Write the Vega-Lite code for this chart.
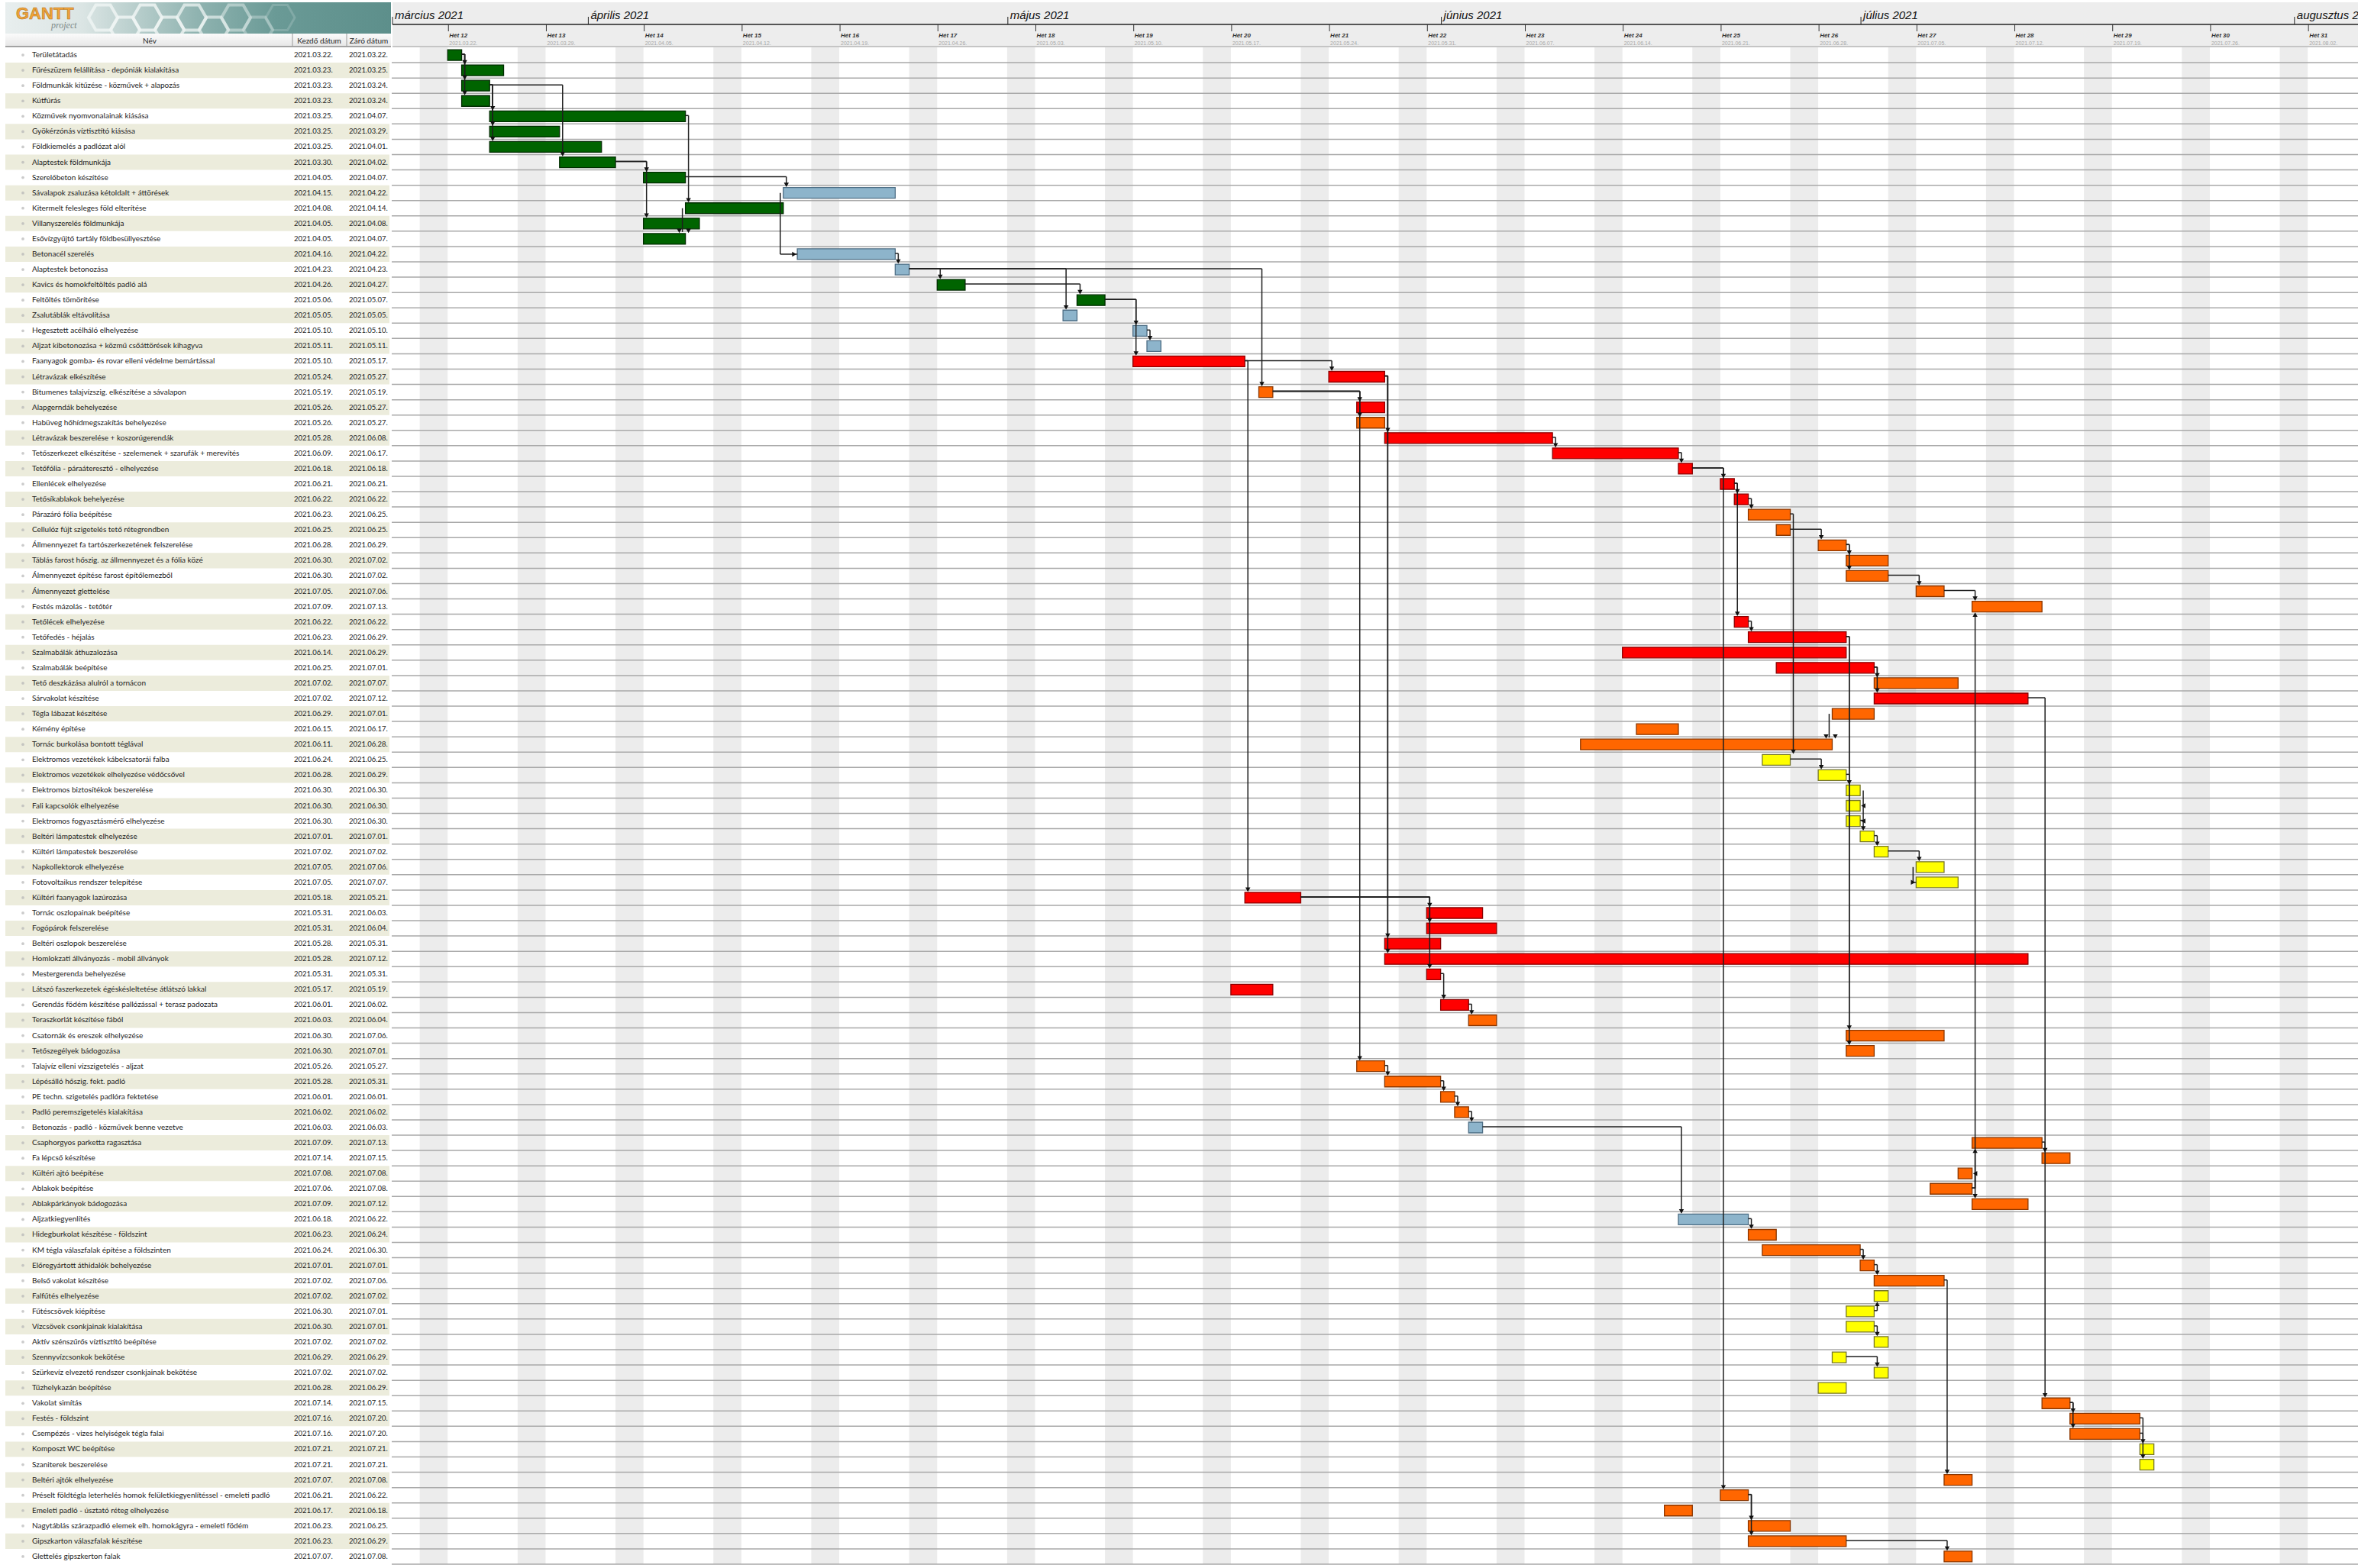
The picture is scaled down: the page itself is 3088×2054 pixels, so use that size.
{
  "$schema": "https://vega.github.io/schema/vega-lite/v6.json",
  "padding": 0,
  "background": "white",
  "spacing": 0,
  "config": {"view": {"stroke": null}, "concat": {"spacing": 0}, "font": "Lato"},
  "datasets": {
    "tasks": [
      {"id": 1, "name": "Területátadás", "start": "2021-03-22", "end": "2021-03-22", "group": "Földmunka"},
      {"id": 2, "name": "Fűrészüzem felállítása - depóniák kialakítása", "start": "2021-03-23", "end": "2021-03-25", "group": "Földmunka"},
      {"id": 3, "name": "Földmunkák kitűzése - közművek + alapozás", "start": "2021-03-23", "end": "2021-03-24", "group": "Földmunka"},
      {"id": 4, "name": "Kútfúrás", "start": "2021-03-23", "end": "2021-03-24", "group": "Földmunka"},
      {"id": 5, "name": "Közművek nyomvonalainak kiásása", "start": "2021-03-25", "end": "2021-04-07", "group": "Földmunka"},
      {"id": 6, "name": "Gyökérzónás víztisztító kiásása", "start": "2021-03-25", "end": "2021-03-29", "group": "Földmunka"},
      {"id": 7, "name": "Földkiemelés a padlózat alól", "start": "2021-03-25", "end": "2021-04-01", "group": "Földmunka"},
      {"id": 8, "name": "Alaptestek földmunkája", "start": "2021-03-30", "end": "2021-04-02", "group": "Földmunka"},
      {"id": 9, "name": "Szerelőbeton készítése", "start": "2021-04-05", "end": "2021-04-07", "group": "Földmunka"},
      {"id": 10, "name": "Sávalapok zsaluzása kétoldalt + áttörések", "start": "2021-04-15", "end": "2021-04-22", "group": "Betonozás"},
      {"id": 11, "name": "Kitermelt felesleges föld elterítése", "start": "2021-04-08", "end": "2021-04-14", "group": "Földmunka"},
      {"id": 12, "name": "Villanyszerelés földmunkája", "start": "2021-04-05", "end": "2021-04-08", "group": "Földmunka"},
      {"id": 13, "name": "Esővízgyűjtő tartály földbesüllyesztése", "start": "2021-04-05", "end": "2021-04-07", "group": "Földmunka"},
      {"id": 14, "name": "Betonacél szerelés", "start": "2021-04-16", "end": "2021-04-22", "group": "Betonozás"},
      {"id": 15, "name": "Alaptestek betonozása", "start": "2021-04-23", "end": "2021-04-23", "group": "Betonozás"},
      {"id": 16, "name": "Kavics és homokfeltöltés padló alá", "start": "2021-04-26", "end": "2021-04-27", "group": "Földmunka"},
      {"id": 17, "name": "Feltöltés tömörítése", "start": "2021-05-06", "end": "2021-05-07", "group": "Földmunka"},
      {"id": 18, "name": "Zsalutáblák eltávolítása", "start": "2021-05-05", "end": "2021-05-05", "group": "Betonozás"},
      {"id": 19, "name": "Hegesztett acélháló elhelyezése", "start": "2021-05-10", "end": "2021-05-10", "group": "Betonozás"},
      {"id": 20, "name": "Aljzat kibetonozása + közmű csőáttörések kihagyva", "start": "2021-05-11", "end": "2021-05-11", "group": "Betonozás"},
      {"id": 21, "name": "Faanyagok gomba- és rovar elleni védelme bemártással", "start": "2021-05-10", "end": "2021-05-17", "group": "Faszerkezet"},
      {"id": 22, "name": "Létravázak elkészítése", "start": "2021-05-24", "end": "2021-05-27", "group": "Faszerkezet"},
      {"id": 23, "name": "Bitumenes talajvízszig. elkészítése a sávalapon", "start": "2021-05-19", "end": "2021-05-19", "group": "Építés"},
      {"id": 24, "name": "Alapgerndák behelyezése", "start": "2021-05-26", "end": "2021-05-27", "group": "Faszerkezet"},
      {"id": 25, "name": "Habüveg hőhídmegszakítás behelyezése", "start": "2021-05-26", "end": "2021-05-27", "group": "Építés"},
      {"id": 26, "name": "Létravázak beszerelése + koszorúgerendák", "start": "2021-05-28", "end": "2021-06-08", "group": "Faszerkezet"},
      {"id": 27, "name": "Tetőszerkezet elkészítése - szelemenek + szarufák + merevítés", "start": "2021-06-09", "end": "2021-06-17", "group": "Faszerkezet"},
      {"id": 28, "name": "Tetőfólia - páraáteresztő - elhelyezése", "start": "2021-06-18", "end": "2021-06-18", "group": "Faszerkezet"},
      {"id": 29, "name": "Ellenlécek elhelyezése", "start": "2021-06-21", "end": "2021-06-21", "group": "Faszerkezet"},
      {"id": 30, "name": "Tetősíkablakok behelyezése", "start": "2021-06-22", "end": "2021-06-22", "group": "Faszerkezet"},
      {"id": 31, "name": "Párazáró fólia beépítése", "start": "2021-06-23", "end": "2021-06-25", "group": "Építés"},
      {"id": 32, "name": "Cellulóz fújt szigetelés tető rétegrendben", "start": "2021-06-25", "end": "2021-06-25", "group": "Építés"},
      {"id": 33, "name": "Állmennyezet fa tartószerkezetének felszerelése", "start": "2021-06-28", "end": "2021-06-29", "group": "Építés"},
      {"id": 34, "name": "Táblás farost hőszig. az állmennyezet és a fólia közé", "start": "2021-06-30", "end": "2021-07-02", "group": "Építés"},
      {"id": 35, "name": "Álmennyezet építése farost építőlemezből", "start": "2021-06-30", "end": "2021-07-02", "group": "Építés"},
      {"id": 36, "name": "Álmennyezet glettelése", "start": "2021-07-05", "end": "2021-07-06", "group": "Építés"},
      {"id": 37, "name": "Festés mázolás - tetőtér", "start": "2021-07-09", "end": "2021-07-13", "group": "Építés"},
      {"id": 38, "name": "Tetőlécek elhelyezése", "start": "2021-06-22", "end": "2021-06-22", "group": "Faszerkezet"},
      {"id": 39, "name": "Tetőfedés - héjalás", "start": "2021-06-23", "end": "2021-06-29", "group": "Faszerkezet"},
      {"id": 40, "name": "Szalmabálák áthuzalozása", "start": "2021-06-14", "end": "2021-06-29", "group": "Faszerkezet"},
      {"id": 41, "name": "Szalmabálák beépítése", "start": "2021-06-25", "end": "2021-07-01", "group": "Faszerkezet"},
      {"id": 42, "name": "Tető deszkázása alulról a tornácon", "start": "2021-07-02", "end": "2021-07-07", "group": "Építés"},
      {"id": 43, "name": "Sárvakolat készítése", "start": "2021-07-02", "end": "2021-07-12", "group": "Faszerkezet"},
      {"id": 44, "name": "Tégla lábazat készítése", "start": "2021-06-29", "end": "2021-07-01", "group": "Építés"},
      {"id": 45, "name": "Kémény építése", "start": "2021-06-15", "end": "2021-06-17", "group": "Építés"},
      {"id": 46, "name": "Tornác burkolása bontott téglával", "start": "2021-06-11", "end": "2021-06-28", "group": "Építés"},
      {"id": 47, "name": "Elektromos vezetékek kábelcsatorái falba", "start": "2021-06-24", "end": "2021-06-25", "group": "Gépészet"},
      {"id": 48, "name": "Elektromos vezetékek elhelyezése védőcsővel", "start": "2021-06-28", "end": "2021-06-29", "group": "Gépészet"},
      {"id": 49, "name": "Elektromos biztosítékok beszerelése", "start": "2021-06-30", "end": "2021-06-30", "group": "Gépészet"},
      {"id": 50, "name": "Fali kapcsolók elhelyezése", "start": "2021-06-30", "end": "2021-06-30", "group": "Gépészet"},
      {"id": 51, "name": "Elektromos fogyasztásmérő elhelyezése", "start": "2021-06-30", "end": "2021-06-30", "group": "Gépészet"},
      {"id": 52, "name": "Beltéri lámpatestek elhelyezése", "start": "2021-07-01", "end": "2021-07-01", "group": "Gépészet"},
      {"id": 53, "name": "Kültéri lámpatestek beszerelése", "start": "2021-07-02", "end": "2021-07-02", "group": "Gépészet"},
      {"id": 54, "name": "Napkollektorok elhelyezése", "start": "2021-07-05", "end": "2021-07-06", "group": "Gépészet"},
      {"id": 55, "name": "Fotovoltaikus rendszer telepítése", "start": "2021-07-05", "end": "2021-07-07", "group": "Gépészet"},
      {"id": 56, "name": "Kültéri faanyagok lazúrozása", "start": "2021-05-18", "end": "2021-05-21", "group": "Faszerkezet"},
      {"id": 57, "name": "Tornác oszlopainak beépítése", "start": "2021-05-31", "end": "2021-06-03", "group": "Faszerkezet"},
      {"id": 58, "name": "Fogópárok felszerelése", "start": "2021-05-31", "end": "2021-06-04", "group": "Faszerkezet"},
      {"id": 59, "name": "Beltéri oszlopok beszerelése", "start": "2021-05-28", "end": "2021-05-31", "group": "Faszerkezet"},
      {"id": 60, "name": "Homlokzati állványozás - mobil állványok", "start": "2021-05-28", "end": "2021-07-12", "group": "Faszerkezet"},
      {"id": 61, "name": "Mestergerenda behelyezése", "start": "2021-05-31", "end": "2021-05-31", "group": "Faszerkezet"},
      {"id": 62, "name": "Látszó faszerkezetek égéskésleltetése átlátszó lakkal", "start": "2021-05-17", "end": "2021-05-19", "group": "Faszerkezet"},
      {"id": 63, "name": "Gerendás födém készítése pallózással + terasz padozata", "start": "2021-06-01", "end": "2021-06-02", "group": "Faszerkezet"},
      {"id": 64, "name": "Teraszkorlát készítése fából", "start": "2021-06-03", "end": "2021-06-04", "group": "Építés"},
      {"id": 65, "name": "Csatornák és ereszek elhelyezése", "start": "2021-06-30", "end": "2021-07-06", "group": "Építés"},
      {"id": 66, "name": "Tetőszegélyek bádogozása", "start": "2021-06-30", "end": "2021-07-01", "group": "Építés"},
      {"id": 67, "name": "Talajvíz elleni vízszigetelés - aljzat", "start": "2021-05-26", "end": "2021-05-27", "group": "Építés"},
      {"id": 68, "name": "Lépésálló hőszig. fekt. padló", "start": "2021-05-28", "end": "2021-05-31", "group": "Építés"},
      {"id": 69, "name": "PE techn. szigetelés padlóra fektetése", "start": "2021-06-01", "end": "2021-06-01", "group": "Építés"},
      {"id": 70, "name": "Padló peremszigetelés kialakítása", "start": "2021-06-02", "end": "2021-06-02", "group": "Építés"},
      {"id": 71, "name": "Betonozás - padló - közművek benne vezetve", "start": "2021-06-03", "end": "2021-06-03", "group": "Betonozás"},
      {"id": 72, "name": "Csaphorgyos parketta ragasztása", "start": "2021-07-09", "end": "2021-07-13", "group": "Építés"},
      {"id": 73, "name": "Fa lépcső készítése", "start": "2021-07-14", "end": "2021-07-15", "group": "Építés"},
      {"id": 74, "name": "Kültéri ajtó beépítése", "start": "2021-07-08", "end": "2021-07-08", "group": "Építés"},
      {"id": 75, "name": "Ablakok beépítése", "start": "2021-07-06", "end": "2021-07-08", "group": "Építés"},
      {"id": 76, "name": "Ablakpárkányok bádogozása", "start": "2021-07-09", "end": "2021-07-12", "group": "Építés"},
      {"id": 77, "name": "Aljzatkiegyenlítés", "start": "2021-06-18", "end": "2021-06-22", "group": "Betonozás"},
      {"id": 78, "name": "Hidegburkolat készítése - földszint", "start": "2021-06-23", "end": "2021-06-24", "group": "Építés"},
      {"id": 79, "name": "KM tégla válaszfalak építése a földszinten", "start": "2021-06-24", "end": "2021-06-30", "group": "Építés"},
      {"id": 80, "name": "Előregyártott áthidalók behelyezése", "start": "2021-07-01", "end": "2021-07-01", "group": "Építés"},
      {"id": 81, "name": "Belső vakolat készítése", "start": "2021-07-02", "end": "2021-07-06", "group": "Építés"},
      {"id": 82, "name": "Falfűtés elhelyezése", "start": "2021-07-02", "end": "2021-07-02", "group": "Gépészet"},
      {"id": 83, "name": "Fűtéscsövek kiépítése", "start": "2021-06-30", "end": "2021-07-01", "group": "Gépészet"},
      {"id": 84, "name": "Vízcsövek csonkjainak kialakítása", "start": "2021-06-30", "end": "2021-07-01", "group": "Gépészet"},
      {"id": 85, "name": "Aktív szénszűrős víztisztító beépítése", "start": "2021-07-02", "end": "2021-07-02", "group": "Gépészet"},
      {"id": 86, "name": "Szennyvízcsonkok bekötése", "start": "2021-06-29", "end": "2021-06-29", "group": "Gépészet"},
      {"id": 87, "name": "Szürkevíz elvezető rendszer csonkjainak bekötése", "start": "2021-07-02", "end": "2021-07-02", "group": "Gépészet"},
      {"id": 88, "name": "Tűzhelykazán beépítése", "start": "2021-06-28", "end": "2021-06-29", "group": "Gépészet"},
      {"id": 89, "name": "Vakolat simítás", "start": "2021-07-14", "end": "2021-07-15", "group": "Építés"},
      {"id": 90, "name": "Festés - földszint", "start": "2021-07-16", "end": "2021-07-20", "group": "Építés"},
      {"id": 91, "name": "Csempézés - vizes helyiségek tégla falai", "start": "2021-07-16", "end": "2021-07-20", "group": "Építés"},
      {"id": 92, "name": "Komposzt WC beépítése", "start": "2021-07-21", "end": "2021-07-21", "group": "Gépészet"},
      {"id": 93, "name": "Szaniterek beszerelése", "start": "2021-07-21", "end": "2021-07-21", "group": "Gépészet"},
      {"id": 94, "name": "Beltéri ajtók elhelyezése", "start": "2021-07-07", "end": "2021-07-08", "group": "Építés"},
      {"id": 95, "name": "Préselt földtégla leterhelés homok felületkiegyenlítéssel - emeleti padló", "start": "2021-06-21", "end": "2021-06-22", "group": "Építés"},
      {"id": 96, "name": "Emeleti padló - úsztató réteg elhelyezése", "start": "2021-06-17", "end": "2021-06-18", "group": "Építés"},
      {"id": 97, "name": "Nagytáblás szárazpadló elemek elh. homokágyra - emeleti födém", "start": "2021-06-23", "end": "2021-06-25", "group": "Építés"},
      {"id": 98, "name": "Gipszkarton válaszfalak készítése", "start": "2021-06-23", "end": "2021-06-29", "group": "Építés"},
      {"id": 99, "name": "Glettelés gipszkerton falak", "start": "2021-07-07", "end": "2021-07-08", "group": "Építés"}
    ],
    "deps": [
      {"from": 1, "to": 2, "type": "FS", "a": "2021-03-23", "b": "2021-03-23"},
      {"from": 1, "to": 3, "type": "FS", "a": "2021-03-23", "b": "2021-03-23"},
      {"from": 1, "to": 4, "type": "FS", "a": "2021-03-23", "b": "2021-03-23"},
      {"from": 3, "to": 5, "type": "FS", "a": "2021-03-25", "b": "2021-03-25"},
      {"from": 3, "to": 6, "type": "FS", "a": "2021-03-25", "b": "2021-03-25"},
      {"from": 3, "to": 7, "type": "FS", "a": "2021-03-25", "b": "2021-03-25"},
      {"from": 3, "to": 8, "type": "FS", "a": "2021-03-25", "b": "2021-03-30"},
      {"from": 8, "to": 9, "type": "FS", "a": "2021-04-03", "b": "2021-04-05"},
      {"from": 8, "to": 12, "type": "FS", "a": "2021-04-03", "b": "2021-04-05"},
      {"from": 9, "to": 10, "type": "FS", "a": "2021-04-08", "b": "2021-04-15"},
      {"from": 5, "to": 11, "type": "FS", "a": "2021-04-08", "b": "2021-04-08"},
      {"from": 11, "to": 13, "type": "SF", "a": "2021-04-08", "b": "2021-04-08"},
      {"from": 10, "to": 14, "type": "SS", "a": "2021-04-15", "b": "2021-04-16"},
      {"from": 14, "to": 15, "type": "FS", "a": "2021-04-23", "b": "2021-04-23"},
      {"from": 15, "to": 16, "type": "FS", "a": "2021-04-24", "b": "2021-04-26"},
      {"from": 15, "to": 18, "type": "FS", "a": "2021-04-24", "b": "2021-05-05"},
      {"from": 15, "to": 23, "type": "FS", "a": "2021-04-24", "b": "2021-05-19"},
      {"from": 16, "to": 17, "type": "FS", "a": "2021-04-28", "b": "2021-05-06"},
      {"from": 17, "to": 19, "type": "FS", "a": "2021-05-08", "b": "2021-05-10"},
      {"from": 17, "to": 21, "type": "FS", "a": "2021-05-08", "b": "2021-05-10"},
      {"from": 19, "to": 20, "type": "FS", "a": "2021-05-11", "b": "2021-05-11"},
      {"from": 21, "to": 22, "type": "FS", "a": "2021-05-18", "b": "2021-05-24"},
      {"from": 21, "to": 56, "type": "FS", "a": "2021-05-18", "b": "2021-05-18"},
      {"from": 23, "to": 24, "type": "FS", "a": "2021-05-20", "b": "2021-05-26"},
      {"from": 23, "to": 25, "type": "FS", "a": "2021-05-20", "b": "2021-05-26"},
      {"from": 23, "to": 67, "type": "FS", "a": "2021-05-20", "b": "2021-05-26"},
      {"from": 22, "to": 26, "type": "FS", "a": "2021-05-28", "b": "2021-05-28"},
      {"from": 22, "to": 59, "type": "FS", "a": "2021-05-28", "b": "2021-05-28"},
      {"from": 22, "to": 60, "type": "FS", "a": "2021-05-28", "b": "2021-05-28"},
      {"from": 67, "to": 68, "type": "FS", "a": "2021-05-28", "b": "2021-05-28"},
      {"from": 56, "to": 57, "type": "FS", "a": "2021-05-22", "b": "2021-05-31"},
      {"from": 56, "to": 58, "type": "FS", "a": "2021-05-22", "b": "2021-05-31"},
      {"from": 56, "to": 61, "type": "FS", "a": "2021-05-22", "b": "2021-05-31"},
      {"from": 68, "to": 69, "type": "FS", "a": "2021-06-01", "b": "2021-06-01"},
      {"from": 69, "to": 70, "type": "FS", "a": "2021-06-02", "b": "2021-06-02"},
      {"from": 70, "to": 71, "type": "FS", "a": "2021-06-03", "b": "2021-06-03"},
      {"from": 61, "to": 63, "type": "FS", "a": "2021-06-01", "b": "2021-06-01"},
      {"from": 63, "to": 64, "type": "FS", "a": "2021-06-03", "b": "2021-06-03"},
      {"from": 26, "to": 27, "type": "FS", "a": "2021-06-09", "b": "2021-06-09"},
      {"from": 27, "to": 28, "type": "FS", "a": "2021-06-18", "b": "2021-06-18"},
      {"from": 28, "to": 29, "type": "FS", "a": "2021-06-19", "b": "2021-06-21"},
      {"from": 28, "to": 95, "type": "FS", "a": "2021-06-19", "b": "2021-06-21"},
      {"from": 29, "to": 30, "type": "FS", "a": "2021-06-22", "b": "2021-06-22"},
      {"from": 29, "to": 38, "type": "FS", "a": "2021-06-22", "b": "2021-06-22"},
      {"from": 30, "to": 31, "type": "FS", "a": "2021-06-23", "b": "2021-06-23"},
      {"from": 38, "to": 39, "type": "FS", "a": "2021-06-23", "b": "2021-06-23"},
      {"from": 32, "to": 33, "type": "FS", "a": "2021-06-26", "b": "2021-06-28"},
      {"from": 33, "to": 34, "type": "FS", "a": "2021-06-30", "b": "2021-06-30"},
      {"from": 33, "to": 35, "type": "FS", "a": "2021-06-30", "b": "2021-06-30"},
      {"from": 35, "to": 36, "type": "FS", "a": "2021-07-03", "b": "2021-07-05"},
      {"from": 36, "to": 37, "type": "FS", "a": "2021-07-07", "b": "2021-07-09"},
      {"from": 41, "to": 42, "type": "FS", "a": "2021-07-02", "b": "2021-07-02"},
      {"from": 41, "to": 43, "type": "FS", "a": "2021-07-02", "b": "2021-07-02"},
      {"from": 44, "to": 46, "type": "SF", "a": "2021-06-29", "b": "2021-06-29"},
      {"from": 31, "to": 47, "type": "FS", "a": "2021-06-26", "b": "2021-06-26"},
      {"from": 47, "to": 48, "type": "FS", "a": "2021-06-26", "b": "2021-06-28"},
      {"from": 48, "to": 49, "type": "FS", "a": "2021-06-30", "b": "2021-06-30"},
      {"from": 49, "to": 50, "type": "FF", "a": "2021-07-01", "b": "2021-07-01"},
      {"from": 50, "to": 51, "type": "FF", "a": "2021-07-01", "b": "2021-07-01"},
      {"from": 51, "to": 52, "type": "FS", "a": "2021-07-01", "b": "2021-07-01"},
      {"from": 52, "to": 53, "type": "FS", "a": "2021-07-02", "b": "2021-07-02"},
      {"from": 53, "to": 54, "type": "FS", "a": "2021-07-03", "b": "2021-07-05"},
      {"from": 54, "to": 55, "type": "SS", "a": "2021-07-05", "b": "2021-07-05"},
      {"from": 39, "to": 65, "type": "FS", "a": "2021-06-30", "b": "2021-06-30"},
      {"from": 39, "to": 66, "type": "FS", "a": "2021-06-30", "b": "2021-06-30"},
      {"from": 43, "to": 89, "type": "FS", "a": "2021-07-13", "b": "2021-07-14"},
      {"from": 71, "to": 77, "type": "FS", "a": "2021-06-04", "b": "2021-06-18"},
      {"from": 77, "to": 78, "type": "FS", "a": "2021-06-23", "b": "2021-06-23"},
      {"from": 79, "to": 80, "type": "FS", "a": "2021-07-01", "b": "2021-07-01"},
      {"from": 80, "to": 81, "type": "FS", "a": "2021-07-02", "b": "2021-07-02"},
      {"from": 81, "to": 94, "type": "FS", "a": "2021-07-07", "b": "2021-07-07"},
      {"from": 98, "to": 99, "type": "FS", "a": "2021-06-30", "b": "2021-07-07"},
      {"from": 75, "to": 37, "type": "FS", "a": "2021-07-09", "b": "2021-07-09"},
      {"from": 75, "to": 72, "type": "FS", "a": "2021-07-09", "b": "2021-07-09"},
      {"from": 75, "to": 76, "type": "FS", "a": "2021-07-09", "b": "2021-07-09"},
      {"from": 75, "to": 74, "type": "FF", "a": "2021-07-09", "b": "2021-07-09"},
      {"from": 72, "to": 73, "type": "FS", "a": "2021-07-14", "b": "2021-07-14"},
      {"from": 89, "to": 90, "type": "FS", "a": "2021-07-16", "b": "2021-07-16"},
      {"from": 89, "to": 91, "type": "FS", "a": "2021-07-16", "b": "2021-07-16"},
      {"from": 90, "to": 92, "type": "FS", "a": "2021-07-21", "b": "2021-07-21"},
      {"from": 91, "to": 93, "type": "FS", "a": "2021-07-21", "b": "2021-07-21"},
      {"from": 95, "to": 97, "type": "FS", "a": "2021-06-23", "b": "2021-06-23"},
      {"from": 95, "to": 98, "type": "FS", "a": "2021-06-23", "b": "2021-06-23"},
      {"from": 83, "to": 82, "type": "FS", "a": "2021-07-02", "b": "2021-07-02"},
      {"from": 84, "to": 85, "type": "FS", "a": "2021-07-02", "b": "2021-07-02"},
      {"from": 86, "to": 87, "type": "FS", "a": "2021-06-30", "b": "2021-07-02"}
    ],
    "weekends": [
      {"sat": "2021-03-20", "sun": "2021-03-21"}, {"sat": "2021-03-27", "sun": "2021-03-28"},
      {"sat": "2021-04-03", "sun": "2021-04-04"}, {"sat": "2021-04-10", "sun": "2021-04-11"},
      {"sat": "2021-04-17", "sun": "2021-04-18"}, {"sat": "2021-04-24", "sun": "2021-04-25"},
      {"sat": "2021-05-01", "sun": "2021-05-02"}, {"sat": "2021-05-08", "sun": "2021-05-09"},
      {"sat": "2021-05-15", "sun": "2021-05-16"}, {"sat": "2021-05-22", "sun": "2021-05-23"},
      {"sat": "2021-05-29", "sun": "2021-05-30"}, {"sat": "2021-06-05", "sun": "2021-06-06"},
      {"sat": "2021-06-12", "sun": "2021-06-13"}, {"sat": "2021-06-19", "sun": "2021-06-20"},
      {"sat": "2021-06-26", "sun": "2021-06-27"}, {"sat": "2021-07-03", "sun": "2021-07-04"},
      {"sat": "2021-07-10", "sun": "2021-07-11"}, {"sat": "2021-07-17", "sun": "2021-07-18"},
      {"sat": "2021-07-24", "sun": "2021-07-25"}, {"sat": "2021-07-31", "sun": "2021-08-01"}
    ],
    "weeks": [
      {"label": "Hét 12", "date": "2021-03-22"}, {"label": "Hét 13", "date": "2021-03-29"},
      {"label": "Hét 14", "date": "2021-04-05"}, {"label": "Hét 15", "date": "2021-04-12"},
      {"label": "Hét 16", "date": "2021-04-19"}, {"label": "Hét 17", "date": "2021-04-26"},
      {"label": "Hét 18", "date": "2021-05-03"}, {"label": "Hét 19", "date": "2021-05-10"},
      {"label": "Hét 20", "date": "2021-05-17"}, {"label": "Hét 21", "date": "2021-05-24"},
      {"label": "Hét 22", "date": "2021-05-31"}, {"label": "Hét 23", "date": "2021-06-07"},
      {"label": "Hét 24", "date": "2021-06-14"}, {"label": "Hét 25", "date": "2021-06-21"},
      {"label": "Hét 26", "date": "2021-06-28"}, {"label": "Hét 27", "date": "2021-07-05"},
      {"label": "Hét 28", "date": "2021-07-12"}, {"label": "Hét 29", "date": "2021-07-19"},
      {"label": "Hét 30", "date": "2021-07-26"}, {"label": "Hét 31", "date": "2021-08-02"}
    ],
    "months": [
      {"label": "március 2021", "date": "2021-03-18"},
      {"label": "április 2021", "date": "2021-04-01"},
      {"label": "május 2021", "date": "2021-05-01"},
      {"label": "június 2021", "date": "2021-06-01"},
      {"label": "július 2021", "date": "2021-07-01"},
      {"label": "augusztus 2021", "date": "2021-08-01"}
    ]
  },
  "vconcat": [
    {
      "spacing": 0,
      "hconcat": [
        {
          "width": 512, "height": 62,
          "data": {"values": [{}]},
          "layer": [
            {"mark": {"type": "rect", "fill": {"gradient": "linear", "x1": 0, "y1": 0, "x2": 1, "y2": 0, "stops": [{"offset": 0, "color": "#e8eeee"}, {"offset": 0.2, "color": "#dbe5e4"}, {"offset": 0.5, "color": "#8fb3b0"}, {"offset": 0.7, "color": "#6a9a96"}, {"offset": 1, "color": "#5d8f8b"}]}},
             "encoding": {"x": {"value": 7}, "x2": {"value": 512}, "y": {"value": 3}, "y2": {"value": 44}}},
            {"mark": {"type": "point", "clip": true, "shape": "M-1,0L-0.5,-0.866L0.5,-0.866L1,0L0.5,0.866L-0.5,0.866Z", "size": 1444, "filled": false, "fill": null, "stroke": "#eef4f3", "strokeWidth": 4, "opacity": 0.85}, "encoding": {"x": {"value": 135}, "y": {"value": 23}}},
            {"mark": {"type": "point", "clip": true, "shape": "M-1,0L-0.5,-0.866L0.5,-0.866L1,0L0.5,0.866L-0.5,0.866Z", "size": 1444, "filled": false, "fill": null, "stroke": "#eef4f3", "strokeWidth": 4, "opacity": 0.85}, "encoding": {"x": {"value": 164}, "y": {"value": 39}}},
            {"mark": {"type": "point", "clip": true, "shape": "M-1,0L-0.5,-0.866L0.5,-0.866L1,0L0.5,0.866L-0.5,0.866Z", "size": 1444, "filled": false, "fill": null, "stroke": "#eef4f3", "strokeWidth": 4, "opacity": 0.85}, "encoding": {"x": {"value": 193}, "y": {"value": 23}}},
            {"mark": {"type": "point", "clip": true, "shape": "M-1,0L-0.5,-0.866L0.5,-0.866L1,0L0.5,0.866L-0.5,0.866Z", "size": 1444, "filled": false, "fill": null, "stroke": "#eef4f3", "strokeWidth": 4, "opacity": 0.8}, "encoding": {"x": {"value": 222}, "y": {"value": 39}}},
            {"mark": {"type": "point", "clip": true, "shape": "M-1,0L-0.5,-0.866L0.5,-0.866L1,0L0.5,0.866L-0.5,0.866Z", "size": 1444, "filled": false, "fill": null, "stroke": "#eef4f3", "strokeWidth": 4, "opacity": 0.75}, "encoding": {"x": {"value": 251}, "y": {"value": 23}}},
            {"mark": {"type": "point", "clip": true, "shape": "M-1,0L-0.5,-0.866L0.5,-0.866L1,0L0.5,0.866L-0.5,0.866Z", "size": 1444, "filled": false, "fill": null, "stroke": "#eef4f3", "strokeWidth": 4, "opacity": 0.65}, "encoding": {"x": {"value": 280}, "y": {"value": 39}}},
            {"mark": {"type": "point", "clip": true, "shape": "M-1,0L-0.5,-0.866L0.5,-0.866L1,0L0.5,0.866L-0.5,0.866Z", "size": 1444, "filled": false, "fill": null, "stroke": "#e6efee", "strokeWidth": 4, "opacity": 0.5}, "encoding": {"x": {"value": 309}, "y": {"value": 23}}},
            {"mark": {"type": "point", "clip": true, "shape": "M-1,0L-0.5,-0.866L0.5,-0.866L1,0L0.5,0.866L-0.5,0.866Z", "size": 1444, "filled": false, "fill": null, "stroke": "#e6efee", "strokeWidth": 4, "opacity": 0.35}, "encoding": {"x": {"value": 338}, "y": {"value": 39}}},
            {"mark": {"type": "point", "clip": true, "shape": "M-1,0L-0.5,-0.866L0.5,-0.866L1,0L0.5,0.866L-0.5,0.866Z", "size": 1444, "filled": false, "fill": null, "stroke": "#e6efee", "strokeWidth": 3, "opacity": 0.2}, "encoding": {"x": {"value": 367}, "y": {"value": 23}}},
            {"mark": {"type": "rect", "color": "white"}, "encoding": {"x": {"value": 0}, "x2": {"value": 512}, "y": {"value": 0}, "y2": {"value": 3}}},
            {"mark": {"type": "rect", "fill": {"gradient": "linear", "x1": 0, "y1": 0, "x2": 0, "y2": 1, "stops": [{"offset": 0, "color": "#fbfbfb"}, {"offset": 1, "color": "#e6e6e6"}]}},
             "encoding": {"x": {"value": 7}, "x2": {"value": 512}, "y": {"value": 44}, "y2": {"value": 61}}},
            {"mark": {"type": "rect", "color": "white"}, "encoding": {"x": {"value": 0}, "x2": {"value": 7}, "y": {"value": 0}, "y2": {"value": 62}}},
            {"mark": {"type": "rule", "color": "#8a8a8a", "strokeWidth": 1.5}, "encoding": {"x": {"value": 7}, "x2": {"value": 512}, "y": {"value": 61}}},
            {"mark": {"type": "rule", "color": "#9a9a9a"}, "encoding": {"x": {"value": 383}, "y": {"value": 44}, "y2": {"value": 61}}},
            {"mark": {"type": "rule", "color": "#9a9a9a"}, "encoding": {"x": {"value": 454}, "y": {"value": 44}, "y2": {"value": 61}}},
            {"mark": {"type": "text", "align": "center", "baseline": "middle", "fontSize": 10, "color": "#222"}, "encoding": {"x": {"value": 196}, "y": {"value": 54}, "text": {"value": "Név"}}},
            {"mark": {"type": "text", "align": "center", "baseline": "middle", "fontSize": 10, "color": "#222"}, "encoding": {"x": {"value": 418}, "y": {"value": 54}, "text": {"value": "Kezdő dátum"}}},
            {"mark": {"type": "text", "align": "center", "baseline": "middle", "fontSize": 10, "color": "#222"}, "encoding": {"x": {"value": 483}, "y": {"value": 54}, "text": {"value": "Záró dátum"}}},
            {"mark": {"type": "text", "align": "left", "baseline": "middle", "fontSize": 22, "font": "Liberation Sans", "fontWeight": "bold", "color": "#f0a43a", "stroke": "#b87418", "strokeWidth": 0.6}, "encoding": {"x": {"value": 21}, "y": {"value": 18}, "text": {"value": "GANTT"}}},
            {"mark": {"type": "text", "align": "left", "baseline": "middle", "fontSize": 12, "font": "Liberation Serif", "fontStyle": "italic", "color": "#7d8a8a"}, "encoding": {"x": {"value": 67}, "y": {"value": 33}, "text": {"value": "project"}}}
          ]
        },
        {
          "width": 2576, "height": 62,
          "layer": [
            {"data": {"values": [{}]}, "mark": {"type": "rect", "color": "#ededed"}, "encoding": {"x": {"value": 0}, "x2": {"value": 2576}, "y": {"value": 3}, "y2": {"value": 61}}},
            {"data": {"values": [{}]}, "mark": {"type": "rule", "color": "#222", "strokeWidth": 1.5}, "encoding": {"x": {"value": 0}, "x2": {"value": 2576}, "y": {"value": 32}}},
            {"data": {"values": [{}]}, "mark": {"type": "rule", "color": "#b4b4b4", "strokeWidth": 1.5}, "encoding": {"x": {"value": 0}, "x2": {"value": 2576}, "y": {"value": 61}}},
            {"data": {"name": "months"}, "mark": {"type": "rule", "color": "#222"},
             "encoding": {"x": {"field": "date", "type": "temporal", "scale": {"type": "utc", "domain": [{"year": 2021, "month": 3, "date": 18, "utc": true}, {"year": 2021, "month": 8, "date": 5, "hours": 15, "minutes": 36, "utc": true}]}, "axis": null}, "y": {"value": 22}, "y2": {"value": 32}}},
            {"data": {"name": "months"}, "mark": {"type": "text", "align": "left", "baseline": "middle", "font": "Liberation Sans", "fontStyle": "italic", "fontSize": 15, "color": "#111", "dx": 3, "clip": true},
             "encoding": {"x": {"field": "date", "type": "temporal"}, "y": {"value": 20}, "text": {"field": "label"}}},
            {"data": {"name": "weeks"}, "mark": {"type": "rule", "color": "#333"},
             "encoding": {"x": {"field": "date", "type": "temporal"}, "y": {"value": 32}, "y2": {"value": 41}}},
            {"data": {"name": "weeks"}, "mark": {"type": "text", "align": "left", "baseline": "middle", "font": "Liberation Sans", "fontStyle": "italic", "fontWeight": "bold", "fontSize": 8, "color": "#333", "dx": 1, "clip": true},
             "encoding": {"x": {"field": "date", "type": "temporal"}, "y": {"value": 47}, "text": {"field": "label"}}},
            {"data": {"name": "weeks"}, "mark": {"type": "text", "align": "left", "baseline": "middle", "font": "Liberation Sans", "fontSize": 7, "color": "#a8a8a8", "dx": 1, "clip": true},
             "encoding": {"x": {"field": "date", "type": "temporal"}, "y": {"value": 57}, "text": {"field": "date", "type": "temporal", "timeUnit": "utcyearmonthdate", "format": "%Y.%m.%d."}}}
          ]
        }
      ]
    },
    {
      "spacing": 0,
      "hconcat": [
        {
          "width": 512, "height": 1987,
          "data": {"name": "tasks"},
          "encoding": {"y": {"field": "id", "type": "ordinal", "scale": {"type": "band", "paddingInner": 0, "paddingOuter": 0}, "axis": null}},
          "layer": [
            {"transform": [{"filter": "datum.id % 2 == 0"}], "mark": {"type": "rect", "color": "#ececdc"}, "encoding": {"x": {"value": 7}, "x2": {"value": 510}}},
            {"mark": {"type": "point", "filled": true, "color": "#b5b5b5", "size": 14}, "encoding": {"x": {"value": 30}}},
            {"mark": {"type": "text", "align": "left", "baseline": "middle", "fontSize": 10, "color": "#222"}, "encoding": {"x": {"value": 42}, "text": {"field": "name"}}},
            {"mark": {"type": "text", "align": "left", "baseline": "middle", "fontSize": 9.5, "color": "#222"}, "encoding": {"x": {"value": 385}, "text": {"field": "start", "type": "temporal", "timeUnit": "utcyearmonthdate", "format": "%Y.%m.%d."}}},
            {"mark": {"type": "text", "align": "left", "baseline": "middle", "fontSize": 9.5, "color": "#222"}, "encoding": {"x": {"value": 457}, "text": {"field": "end", "type": "temporal", "timeUnit": "utcyearmonthdate", "format": "%Y.%m.%d."}}}
          ]
        },
        {
          "width": 2576, "height": 1987,
          "layer": [
            {"data": {"name": "weekends"}, "mark": {"type": "rect", "color": "#ececec", "x2Offset": 18.32},
             "encoding": {"x": {"field": "sat", "type": "temporal", "scale": {"type": "utc", "domain": [{"year": 2021, "month": 3, "date": 18, "utc": true}, {"year": 2021, "month": 8, "date": 5, "hours": 15, "minutes": 36, "utc": true}]}, "axis": null}, "x2": {"field": "sun"}, "y": {"value": 0}, "y2": {"value": 1987}}},
            {"data": {"name": "tasks"}, "mark": {"type": "rule", "color": "#a9a9a9", "strokeWidth": 1.5},
             "encoding": {"y": {"field": "id", "type": "ordinal", "bandPosition": 1, "scale": {"type": "band", "paddingInner": 0, "paddingOuter": 0}, "axis": null}}},
            {"data": {"name": "tasks"}, "mark": {"type": "bar", "height": 14, "x2Offset": 18.32, "strokeWidth": 1.3},
             "encoding": {
               "x": {"field": "start", "type": "temporal"},
               "x2": {"field": "end"},
               "y": {"field": "id", "type": "ordinal"},
               "color": {"field": "group", "type": "nominal", "legend": null, "scale": {"domain": ["Földmunka", "Betonozás", "Faszerkezet", "Építés", "Gépészet"], "range": ["#006400", "#8db4cb", "#ff0000", "#ff6600", "#ffff00"]}},
               "stroke": {"field": "group", "type": "nominal", "legend": null, "scale": {"domain": ["Földmunka", "Betonozás", "Faszerkezet", "Építés", "Gépészet"], "range": ["#002b00", "#4d6d84", "#8a0000", "#8a3600", "#77772a"]}}
             }},
            {"data": {"name": "deps"}, "transform": [{"filter": "datum.type == 'FS'"}],
             "mark": {"type": "rule", "color": "#1e1e1e", "strokeWidth": 1.5, "x2Offset": 4, "yOffset": -1},
             "encoding": {"x": {"field": "a", "type": "temporal"}, "x2": {"field": "b"}, "y": {"field": "from", "type": "ordinal"}}},
            {"data": {"name": "deps"}, "transform": [{"filter": "datum.type == 'FS' && datum.to > datum.from"}],
             "mark": {"type": "rule", "color": "#1e1e1e", "strokeWidth": 1.5, "xOffset": 4, "yOffset": -1, "y2Offset": -9},
             "encoding": {"x": {"field": "b", "type": "temporal"}, "y": {"field": "from", "type": "ordinal"}, "y2": {"field": "to"}}},
            {"data": {"name": "deps"}, "transform": [{"filter": "datum.type == 'FS' && datum.to < datum.from"}],
             "mark": {"type": "rule", "color": "#1e1e1e", "strokeWidth": 1.5, "xOffset": 4, "yOffset": -1, "y2Offset": 9},
             "encoding": {"x": {"field": "b", "type": "temporal"}, "y": {"field": "from", "type": "ordinal"}, "y2": {"field": "to"}}},
            {"data": {"name": "deps"}, "transform": [{"filter": "(datum.type == 'FS' || datum.type == 'SF') && datum.to > datum.from"}],
             "mark": {"type": "point", "shape": "triangle-down", "filled": true, "color": "#111", "opacity": 1, "size": 42, "xOffset": 4, "yOffset": -10.5},
             "encoding": {"x": {"field": "b", "type": "temporal"}, "y": {"field": "to", "type": "ordinal"}}},
            {"data": {"name": "deps"}, "transform": [{"filter": "datum.type == 'FS' && datum.to < datum.from"}],
             "mark": {"type": "point", "shape": "triangle-up", "filled": true, "color": "#111", "opacity": 1, "size": 42, "xOffset": 4, "yOffset": 10.5},
             "encoding": {"x": {"field": "b", "type": "temporal"}, "y": {"field": "to", "type": "ordinal"}}},
            {"data": {"name": "deps"}, "transform": [{"filter": "datum.type == 'SS'"}],
             "mark": {"type": "rule", "color": "#1e1e1e", "strokeWidth": 1.5, "xOffset": -4},
             "encoding": {"x": {"field": "a", "type": "temporal"}, "y": {"field": "from", "type": "ordinal"}, "y2": {"field": "to"}}},
            {"data": {"name": "deps"}, "transform": [{"filter": "datum.type == 'SS'"}],
             "mark": {"type": "rule", "color": "#1e1e1e", "strokeWidth": 1.5, "xOffset": -4},
             "encoding": {"x": {"field": "a", "type": "temporal"}, "x2": {"field": "b"}, "y": {"field": "to", "type": "ordinal"}}},
            {"data": {"name": "deps"}, "transform": [{"filter": "datum.type == 'SS'"}],
             "mark": {"type": "point", "shape": "triangle-right", "filled": true, "color": "#111", "opacity": 1, "size": 42, "xOffset": -4},
             "encoding": {"x": {"field": "b", "type": "temporal"}, "y": {"field": "to", "type": "ordinal"}}},
            {"data": {"name": "deps"}, "transform": [{"filter": "datum.type == 'FF'"}],
             "mark": {"type": "rule", "color": "#1e1e1e", "strokeWidth": 1.5, "xOffset": 4},
             "encoding": {"x": {"field": "a", "type": "temporal"}, "y": {"field": "from", "type": "ordinal"}, "y2": {"field": "to"}}},
            {"data": {"name": "deps"}, "transform": [{"filter": "datum.type == 'FF'"}],
             "mark": {"type": "point", "shape": "triangle-left", "filled": true, "color": "#111", "opacity": 1, "size": 42, "xOffset": 4},
             "encoding": {"x": {"field": "b", "type": "temporal"}, "y": {"field": "to", "type": "ordinal"}}},
            {"data": {"name": "deps"}, "transform": [{"filter": "datum.type == 'SF'"}],
             "mark": {"type": "rule", "color": "#1e1e1e", "strokeWidth": 1.5, "xOffset": -4, "y2Offset": -9},
             "encoding": {"x": {"field": "a", "type": "temporal"}, "y": {"field": "from", "type": "ordinal"}, "y2": {"field": "to"}}},
            {"data": {"name": "deps"}, "transform": [{"filter": "datum.type == 'SF'"}],
             "mark": {"type": "point", "shape": "triangle-down", "filled": true, "color": "#111", "opacity": 1, "size": 42, "xOffset": -8, "yOffset": -10.5},
             "encoding": {"x": {"field": "a", "type": "temporal"}, "y": {"field": "to", "type": "ordinal"}}}
          ]
        }
      ]
    }
  ]
}
